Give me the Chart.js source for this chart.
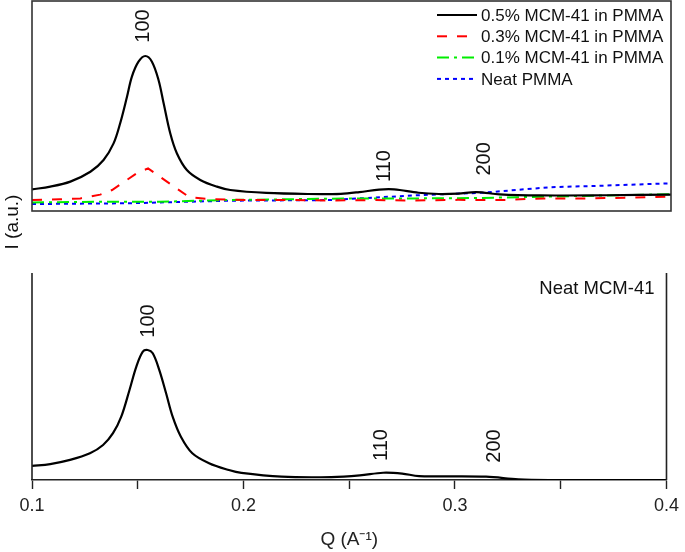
<!DOCTYPE html>
<html>
<head>
<meta charset="utf-8">
<script src="https://cdn.jsdelivr.net/npm/chart.js@4.4.1/dist/chart.umd.min.js"></script>
<style>
  body { margin: 0; background: #fff; }
  #wrap { position: relative; width: 685px; height: 552px; }
  canvas { position: absolute; left: 0; }
  #top { top: 0; width: 685px; height: 262px; }
  #bottom { top: 262px; width: 685px; height: 290px; }
</style>
</head>
<body>
<div id="wrap">
  <canvas id="top" width="685" height="262"></canvas>
  <canvas id="bottom" width="685" height="290"></canvas>
</div>
<script>
// top panel: composites (arbitrary intensity units, 0-100 over the panel height)
const q05 = [0.100, 0.1086, 0.1180, 0.1274, 0.1336, 0.1383, 0.1414, 0.1446, 0.1469, 0.1500, 0.1532, 0.1563, 0.1594, 0.1618, 0.1649, 0.1680, 0.1727, 0.1790, 0.1868, 0.1931, 0.210, 0.230, 0.245, 0.2537, 0.263, 0.270, 0.2815, 0.291, 0.300, 0.3087, 0.3196, 0.3384, 0.370, 0.400];
const i05 = [10.3, 11.6, 14.0, 18.7, 24.3, 32.2, 41.8, 54.4, 64.0, 71.1, 73.8, 71.1, 62.4, 51.3, 37.0, 27.5, 19.5, 14.8, 11.6, 10.0, 8.6, 8.1, 8.2, 9.0, 10.2, 10.3, 8.7, 8.1, 8.3, 9.0, 7.9, 7.4, 7.5, 7.8];

const q03 = [0.100, 0.113, 0.1227, 0.132, 0.1376, 0.1494, 0.1545, 0.163, 0.168, 0.174, 0.184, 0.200, 0.220, 0.240, 0.260, 0.280, 0.300, 0.320, 0.340, 0.360, 0.380, 0.400];
const i03 = [5.2, 5.6, 6.0, 7.8, 10.0, 18.1, 20.3, 14.2, 10.7, 6.5, 5.6, 5.2, 5.3, 5.0, 5.2, 5.0, 5.3, 5.2, 6.0, 6.0, 6.3, 6.8];

const q01 = [0.100, 0.130, 0.160, 0.190, 0.220, 0.250, 0.280, 0.310, 0.340, 0.370, 0.400];
const i01 = [4.1, 4.4, 4.4, 5.2, 5.6, 6.0, 6.0, 6.2, 6.8, 7.4, 8.0];

const qNeat = [0.100, 0.146, 0.193, 0.240, 0.2537, 0.283, 0.312, 0.327, 0.343, 0.366, 0.400];
const iNeat = [3.3, 3.7, 4.9, 5.2, 6.0, 7.6, 8.7, 10.0, 11.3, 12.0, 13.2];

// bottom panel: neat MCM-41
const qMcm = [0.100, 0.1086, 0.118, 0.1274, 0.1336, 0.1383, 0.1422, 0.1461, 0.1493, 0.1524, 0.1547, 0.1571, 0.1602, 0.1634, 0.1665, 0.1704, 0.1758, 0.1837, 0.1931, 0.199, 0.218, 0.2415, 0.255, 0.266, 0.275, 0.283, 0.3147, 0.330, 0.346, 0.400];
const iMcm = [6.8, 7.7, 9.7, 12.9, 16.9, 22.6, 30.6, 43.5, 54.7, 62.0, 62.8, 61.2, 53.1, 41.9, 30.6, 20.9, 12.9, 8.1, 4.8, 3.4, 1.6, 1.4, 2.2, 3.5, 3.1, 1.9, 1.6, 0.3, 0, 0];

const seriesNames = ['0.5% MCM-41 in PMMA', '0.3% MCM-41 in PMMA', '0.1% MCM-41 in PMMA', 'Neat PMMA'];

// reflection labels (hkl), placed at q and intensity
const peakText = ['100', '110', '200'];
const topPeakQ = [0.1525, 0.2653, 0.3122];
const topPeakI = [88.1, 21.4, 24.8];
const bottomPeakQ = [0.1549, 0.2652, 0.3186];
const bottomPeakI = [76.8, 16.9, 16.4];

const xTicks = [0.1, 0.2, 0.3, 0.4];

const FONT = '"Liberation Sans", Arial, sans-serif';
Chart.defaults.font.family = FONT;
Chart.defaults.color = '#222';

function points(qs, is) {
    return qs.map((q, k) => ({ x: q, y: is[k] }));
}

function rotatedText(ctx, text, x, y, size) {
    ctx.save();
    ctx.translate(x, y);
    ctx.rotate(-Math.PI / 2);
    ctx.font = size + 'px ' + FONT;
    ctx.fillStyle = '#111';
    ctx.textAlign = 'center';
    ctx.textBaseline = 'middle';
    ctx.fillText(text, 0, 0);
    ctx.restore();
}

const topDecor = {
    id: 'topDecor',
    afterDraw(chart) {
        const ctx = chart.ctx;
        const a = chart.chartArea;
        const xs = chart.scales.x, ys = chart.scales.y;

        ctx.save();
        ctx.strokeStyle = '#333';
        ctx.lineWidth = 1.6;
        ctx.strokeRect(a.left, a.top, a.right - a.left, a.bottom - a.top);

        // legend
        chart.data.datasets.forEach((ds, k) => {
            const y = a.top + 14 + k * 21.3;
            const x0 = a.right - 234;
            ctx.beginPath();
            ctx.setLineDash(ds.borderDash || []);
            ctx.strokeStyle = ds.borderColor;
            ctx.lineWidth = ds.borderWidth;
            ctx.moveTo(x0, y);
            ctx.lineTo(x0 + 40, y);
            ctx.stroke();
            ctx.setLineDash([]);
            ctx.font = '17px ' + FONT;
            ctx.fillStyle = '#111';
            ctx.textAlign = 'left';
            ctx.textBaseline = 'middle';
            ctx.fillText(ds.label, x0 + 44, y + 1);
        });
        ctx.restore();

        peakText.forEach((t, k) => {
            rotatedText(ctx, t, xs.getPixelForValue(topPeakQ[k]), ys.getPixelForValue(topPeakI[k]), 20);
        });

        // shared y title between the panels
        rotatedText(ctx, 'I (a.u.)', 13, 222, 19);
    }
};

const bottomDecor = {
    id: 'bottomDecor',
    afterDraw(chart) {
        const ctx = chart.ctx;
        const a = chart.chartArea;
        const xs = chart.scales.x, ys = chart.scales.y;

        ctx.save();
        ctx.strokeStyle = '#222';
        ctx.lineWidth = 1.6;
        ctx.beginPath();
        ctx.moveTo(a.left, a.top);
        ctx.lineTo(a.left, a.bottom);
        ctx.moveTo(a.right, a.top);
        ctx.lineTo(a.right, a.bottom);
        ctx.stroke();

        ctx.font = '18.5px ' + FONT;
        ctx.fillStyle = '#111';
        ctx.textAlign = 'right';
        ctx.textBaseline = 'middle';
        ctx.fillText('Neat MCM-41', a.right - 12, a.top + 16);
        ctx.restore();

        peakText.forEach((t, k) => {
            rotatedText(ctx, t, xs.getPixelForValue(bottomPeakQ[k]), ys.getPixelForValue(bottomPeakI[k]), 20);
        });
    }
};

const common = {
    responsive: false,
    animation: false,
    devicePixelRatio: 1,
    plugins: { legend: { display: false }, tooltip: { enabled: false } },
    elements: { point: { radius: 0 } }
};

new Chart(document.getElementById('top'), {
    type: 'line',
    data: {
        datasets: [
            { label: seriesNames[0], data: points(q05, i05), borderColor: '#000000', borderWidth: 2.2, tension: 0.35 },
            { label: seriesNames[1], data: points(q03, i03), borderColor: '#ff0000', borderWidth: 2, borderDash: [10, 10], tension: 0 },
            { label: seriesNames[2], data: points(q01, i01), borderColor: '#00ee00', borderWidth: 2, borderDash: [12, 5, 3, 5], tension: 0 },
            { label: seriesNames[3], data: points(qNeat, iNeat), borderColor: '#0000ff', borderWidth: 2, borderDash: [4, 4], tension: 0 }
        ]
    },
    options: {
        ...common,
        layout: { padding: { left: 32, right: 14, top: 1, bottom: 51 } },
        scales: {
            x: { type: 'linear', min: 0.1, max: 0.4, display: false },
            y: { min: 0, max: 100, display: false }
        }
    },
    plugins: [topDecor]
});

new Chart(document.getElementById('bottom'), {
    type: 'line',
    data: {
        datasets: [
            { label: 'Neat MCM-41', data: points(qMcm, iMcm), borderColor: '#000000', borderWidth: 2.2, tension: 0.35 }
        ]
    },
    options: {
        ...common,
        layout: { padding: { left: 32, right: 14, top: 11, bottom: 0 } },
        scales: {
            x: {
                type: 'linear', min: 0.1, max: 0.4,
                afterFit(scale) { scale.height = 72; },
                ticks: {
                    stepSize: 0.05,
                    autoSkip: false,
                    maxRotation: 0,
                    padding: 6,
                    font: { size: 18 },
                    color: '#222',
                    callback: (v) => {
                        const hit = xTicks.find(t => Math.abs(t - v) < 1e-6);
                        return hit === undefined ? '' : hit.toFixed(1);
                    }
                },
                grid: { display: true, drawOnChartArea: false, drawTicks: true, tickLength: 9, tickColor: '#222', tickWidth: 1.4 },
                border: { display: true, color: '#222', width: 1.6 },
                title: { display: true, text: 'Q (A\u207B\u00B9)', font: { size: 19 }, color: '#222', padding: { top: 0, bottom: 1 } }
            },
            y: { min: 0, max: 100, display: false }
        }
    },
    plugins: [bottomDecor]
});
</script>
</body>
</html>
